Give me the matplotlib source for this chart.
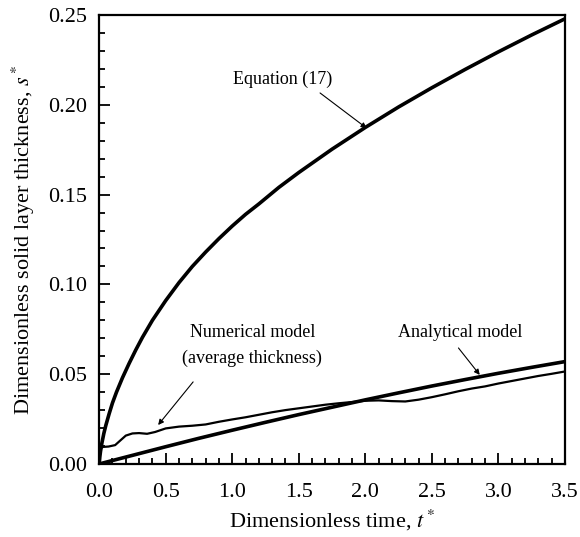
import matplotlib
matplotlib.use("Agg")
import matplotlib.pyplot as plt

# Equation (17)
t_eq = [0, 0.005, 0.01, 0.02, 0.035, 0.05, 0.075, 0.1, 0.13, 0.175, 0.225, 0.275, 0.325,
        0.4, 0.5, 0.6, 0.7, 0.8, 0.9, 1.0, 1.1, 1.2, 1.35, 1.5, 1.75, 2.0, 2.25, 2.5,
        2.75, 3.0, 3.25, 3.5]
s_eq = [0, 0.004, 0.007, 0.0115, 0.017, 0.0215, 0.028, 0.034, 0.040, 0.048, 0.056, 0.0635,
        0.0705, 0.080, 0.091, 0.101, 0.110, 0.118, 0.1255, 0.1325, 0.139, 0.1448, 0.154,
        0.1623, 0.1753, 0.1874, 0.1988, 0.2095, 0.2197, 0.2295, 0.2389, 0.2479]

# Analytical model
t_an = [0, 0.25, 0.5, 0.75, 1.0, 1.25, 1.5, 1.75, 2.0, 2.25, 2.5, 2.75, 3.0, 3.25, 3.5]
s_an = [0, 0.0048, 0.0096, 0.0143, 0.0188, 0.0232, 0.0275, 0.0316, 0.0357, 0.0396,
        0.0434, 0.0470, 0.0505, 0.0538, 0.0570]

# Numerical model (average thickness)
t_num = [0, 0.005, 0.015, 0.03, 0.07, 0.12, 0.15, 0.2, 0.25, 0.3, 0.36, 0.42, 0.5,
         0.6, 0.7, 0.8, 0.9, 1.0, 1.1, 1.2, 1.3, 1.4, 1.5, 1.6, 1.7, 1.8, 1.9, 2.0,
         2.1, 2.2, 2.3, 2.4, 2.5, 2.6, 2.7, 2.8, 2.9, 3.0, 3.1, 3.2, 3.3, 3.4, 3.5]
s_num = [0, 0.006, 0.009, 0.0095, 0.0097, 0.0105, 0.0125, 0.0158, 0.0170, 0.0172, 0.0168,
         0.0178, 0.0198, 0.0208, 0.0213, 0.0220, 0.0235, 0.0248, 0.0260, 0.0274, 0.0288,
         0.0300, 0.0310, 0.0320, 0.0330, 0.0338, 0.0345, 0.0352, 0.0354, 0.0350, 0.0348,
         0.0358, 0.0372, 0.0388, 0.0405, 0.0420, 0.0432, 0.0448, 0.0462, 0.0476, 0.0490,
         0.0502, 0.0515]

plt.rcParams['font.family'] = ['Liberation Serif', 'DejaVu Serif']
plt.rcParams['mathtext.fontset'] = 'stix'

fig = plt.figure(figsize=(5.8, 5.37), dpi=100)
ax = fig.add_axes([0.171, 0.136, 0.803, 0.836])

ax.plot(t_eq, s_eq, color='black', lw=2.6)
ax.plot(t_an, s_an, color='black', lw=2.6)
ax.plot(t_num, s_num, color='black', lw=1.6)

ax.set_xlim(0, 3.5)
ax.set_ylim(0, 0.25)
ax.set_xticks([0, 0.5, 1.0, 1.5, 2.0, 2.5, 3.0, 3.5])
ax.set_xticks([i * 0.1 for i in range(36)], minor=True)
ax.set_yticks([0, 0.05, 0.10, 0.15, 0.20, 0.25])
ax.set_yticks([i * 0.01 for i in range(26)], minor=True)
ax.set_xticklabels(['0.0', '0.5', '1.0', '1.5', '2.0', '2.5', '3.0', '3.5'])
ax.set_yticklabels(['0.00', '0.05', '0.10', '0.15', '0.20', '0.25'])
ax.tick_params(which='both', direction='in', labelsize=16, width=1.3)
ax.tick_params(which='major', length=8)
ax.tick_params(axis='x', which='major', pad=14)
ax.tick_params(axis='y', which='major', pad=9)
ax.tick_params(which='minor', length=4)
for sp in ax.spines.values():
    sp.set_linewidth(1.6)

ax.set_xlabel(r'Dimensionless time, $t^*$', fontsize=16, labelpad=4)
ax.set_ylabel(r'Dimensionless solid layer thickness, $s^*$', fontsize=16, labelpad=8)

# labels and pointer arrows
arrow = dict(arrowstyle='-|>', color='black', lw=0.8, mutation_scale=8, shrinkA=0, shrinkB=0)
ax.text(1.38, 0.214, 'Equation (17)', fontsize=13, ha='center', va='center')
ax.annotate('', xy=(2.01, 0.187), xytext=(1.66, 0.2066), arrowprops=arrow)
ax.text(1.15, 0.073, 'Numerical model', fontsize=13, ha='center', va='center')
ax.text(1.15, 0.059, '(average thickness)', fontsize=13, ha='center', va='center')
ax.annotate('', xy=(0.443, 0.0217), xytext=(0.706, 0.0457), arrowprops=arrow)
ax.text(2.71, 0.073, 'Analytical model', fontsize=13, ha='center', va='center')
ax.annotate('', xy=(2.86, 0.0496), xytext=(2.70, 0.0646), arrowprops=arrow)

fig.savefig('out.png', dpi=100)
